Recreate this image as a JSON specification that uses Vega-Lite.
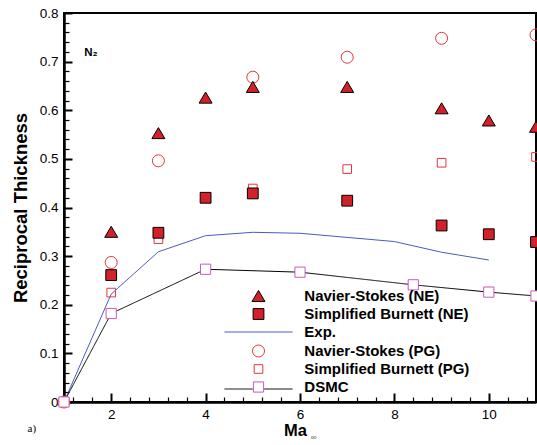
{
  "$schema": "https://vega.github.io/schema/vega-lite/v6.json",
  "width": 472,
  "height": 389,
  "autosize": "none",
  "padding": {"left": 64, "top": 13, "right": 1, "bottom": 43},
  "background": "white",
  "config": {
    "view": {"stroke": "black", "strokeWidth": 2},
    "font": "Liberation Sans"
  },
  "datasets": {
    "points": [
      {"series": "Navier-Stokes (PG)", "x": 1, "y": 0},
      {"series": "Navier-Stokes (PG)", "x": 2, "y": 0.287},
      {"series": "Navier-Stokes (PG)", "x": 3, "y": 0.496},
      {"series": "Navier-Stokes (PG)", "x": 5, "y": 0.668},
      {"series": "Navier-Stokes (PG)", "x": 7, "y": 0.709},
      {"series": "Navier-Stokes (PG)", "x": 9, "y": 0.748},
      {"series": "Navier-Stokes (PG)", "x": 11, "y": 0.755},
      {"series": "Simplified Burnett (PG)", "x": 1, "y": 0},
      {"series": "Simplified Burnett (PG)", "x": 2, "y": 0.225},
      {"series": "Simplified Burnett (PG)", "x": 3, "y": 0.335},
      {"series": "Simplified Burnett (PG)", "x": 5, "y": 0.439},
      {"series": "Simplified Burnett (PG)", "x": 7, "y": 0.479},
      {"series": "Simplified Burnett (PG)", "x": 9, "y": 0.492},
      {"series": "Simplified Burnett (PG)", "x": 11, "y": 0.504},
      {"series": "DSMC", "x": 1, "y": 0},
      {"series": "DSMC", "x": 2, "y": 0.182},
      {"series": "DSMC", "x": 4, "y": 0.273},
      {"series": "DSMC", "x": 6, "y": 0.267},
      {"series": "DSMC", "x": 8.4, "y": 0.241},
      {"series": "DSMC", "x": 10, "y": 0.226},
      {"series": "DSMC", "x": 11, "y": 0.218},
      {"series": "Navier-Stokes (NE)", "x": 2, "y": 0.35},
      {"series": "Navier-Stokes (NE)", "x": 3, "y": 0.553},
      {"series": "Navier-Stokes (NE)", "x": 4, "y": 0.626},
      {"series": "Navier-Stokes (NE)", "x": 5, "y": 0.648},
      {"series": "Navier-Stokes (NE)", "x": 7, "y": 0.648},
      {"series": "Navier-Stokes (NE)", "x": 9, "y": 0.604},
      {"series": "Navier-Stokes (NE)", "x": 10, "y": 0.579},
      {"series": "Navier-Stokes (NE)", "x": 11, "y": 0.566},
      {"series": "Simplified Burnett (NE)", "x": 2, "y": 0.261},
      {"series": "Simplified Burnett (NE)", "x": 3, "y": 0.348},
      {"series": "Simplified Burnett (NE)", "x": 4, "y": 0.42},
      {"series": "Simplified Burnett (NE)", "x": 5, "y": 0.429},
      {"series": "Simplified Burnett (NE)", "x": 7, "y": 0.414},
      {"series": "Simplified Burnett (NE)", "x": 9, "y": 0.363},
      {"series": "Simplified Burnett (NE)", "x": 10, "y": 0.345},
      {"series": "Simplified Burnett (NE)", "x": 11, "y": 0.329}
    ],
    "exp": [
      {"x": 1, "y": 0},
      {"x": 2, "y": 0.222},
      {"x": 3, "y": 0.309},
      {"x": 4, "y": 0.342},
      {"x": 5, "y": 0.349},
      {"x": 6, "y": 0.347},
      {"x": 8, "y": 0.33},
      {"x": 9, "y": 0.308},
      {"x": 10, "y": 0.292}
    ],
    "dsmc": [
      {"series": "DSMC", "x": 1, "y": 0},
      {"series": "DSMC", "x": 2, "y": 0.182},
      {"series": "DSMC", "x": 4, "y": 0.273},
      {"series": "DSMC", "x": 6, "y": 0.267},
      {"series": "DSMC", "x": 8.4, "y": 0.241},
      {"series": "DSMC", "x": 10, "y": 0.226},
      {"series": "DSMC", "x": 11, "y": 0.218}
    ]
  },
  "encoding": {
    "x": {
      "field": "x",
      "type": "quantitative",
      "scale": {"domain": [1, 11], "nice": false, "zero": false},
      "axis": {
        "orient": "bottom",
        "values": [1.2, 1.6, 2, 2.4, 2.8, 3.2, 3.6, 4, 4.4, 4.8, 5.2, 5.6, 6, 6.4, 6.8, 7.2, 7.6, 8, 8.4, 8.8, 9.2, 9.6, 10, 10.4, 10.8],
        "labelExpr": "abs(datum.value/2 - round(datum.value/2)) < 0.001 ? format(datum.value, 'd') : ''",
        "labelFont": "Liberation Sans",
        "labelFontSize": 13.5,
        "labelColor": "black",
        "labelPadding": 14,
        "labelFlush": false,
        "labelOverlap": false,
        "tickColor": "black",
        "tickSize": {"condition": {"test": "abs(datum.value/2 - round(datum.value/2)) < 0.001", "value": -9}, "value": -5},
        "tickWidth": {"condition": {"test": "abs(datum.value/2 - round(datum.value/2)) < 0.001", "value": 2}, "value": 1.2},
        "domainColor": "black",
        "domainWidth": 2.5,
        "gridOpacity": 0,
        "title": "Ma",
        "titleFont": "Liberation Sans",
        "titleFontSize": 16.5,
        "titleFontWeight": "bold",
        "titleColor": "black",
        "titleX": 231,
        "titleY": 33,
        "titleAlign": "center",
        "titleBaseline": "alphabetic"
      }
    },
    "y": {
      "field": "y",
      "type": "quantitative",
      "scale": {"domain": [0, 0.8], "nice": false, "zero": false},
      "axis": {
        "orient": "left",
        "values": [0, 0.02, 0.04, 0.06, 0.08, 0.1, 0.12, 0.14, 0.16, 0.18, 0.2, 0.22, 0.24, 0.26, 0.28, 0.3, 0.32, 0.34, 0.36, 0.38, 0.4, 0.42, 0.44, 0.46, 0.48, 0.5, 0.52, 0.54, 0.56, 0.58, 0.6, 0.62, 0.64, 0.66, 0.68, 0.7, 0.72, 0.74, 0.76, 0.78, 0.8],
        "labelExpr": "abs(datum.value*10 - round(datum.value*10)) < 0.001 ? format(datum.value, '.1~f') : ''",
        "labelFont": "Liberation Sans",
        "labelFontSize": 13.5,
        "labelColor": "black",
        "labelPadding": 14,
        "labelFlush": false,
        "labelOverlap": false,
        "tickColor": "black",
        "tickSize": {"condition": {"test": "abs(datum.value*10 - round(datum.value*10)) < 0.001", "value": -8}, "value": -5},
        "tickWidth": {"condition": {"test": "abs(datum.value*10 - round(datum.value*10)) < 0.001", "value": 2}, "value": 1.2},
        "domainColor": "black",
        "domainWidth": 2.5,
        "gridOpacity": 0,
        "title": "Reciprocal Thickness",
        "titleFont": "Liberation Sans",
        "titleFontSize": 18.5,
        "titleFontWeight": "bold",
        "titleColor": "black",
        "titleAngle": 270,
        "titleX": -44,
        "titleY": 194.5,
        "titleAlign": "center",
        "titleBaseline": "middle"
      }
    }
  },
  "layer": [
    {
      "data": {"name": "exp"},
      "mark": {"type": "line", "color": "#4a5cc0", "strokeWidth": 1},
      "encoding": {}
    },
    {
      "data": {"name": "dsmc"},
      "mark": {"type": "line", "color": "black", "strokeWidth": 1},
      "encoding": {
        "strokeDash": {
          "field": "series",
          "type": "nominal",
          "scale": {"domain": ["DSMC"], "range": [[1, 0]]},
          "legend": {
            "title": null,
            "orient": "none",
            "legendX": 187,
            "legendY": 368.5,
            "padding": 0,
            "labelExpr": "''",
            "labelFontSize": 15,
            "symbolType": "M-5.67,0H-0.95M0.95,0H5.67",
            "symbolSize": 144,
            "symbolStrokeColor": "black",
            "symbolStrokeWidth": 1
          }
        }
      }
    },
    {
      "data": {"name": "points"},
      "mark": {"type": "point", "filled": true, "size": 144, "strokeWidth": 1, "opacity": 1},
      "encoding": {
        "shape": {
          "field": "series",
          "type": "nominal",
          "scale": {
            "domain": ["Navier-Stokes (NE)", "Simplified Burnett (NE)", "Exp.", "Navier-Stokes (PG)", "Simplified Burnett (PG)", "DSMC"],
            "range": ["M0,-0.92L1.08,0.92L-1.08,0.92Z", "M-0.9,-0.9H0.9V0.9H-0.9Z", "M-5.67,0H5.67", "circle", "M-0.72,-0.72H0.72V0.72H-0.72Z", "M-0.85,-0.85H0.85V0.85H-0.85Z"]
          },
          "legend": {"title": null, "orient": "none", "legendX": 187, "legendY": 275.5, "padding": 0, "labelFont": "Liberation Sans", "labelFontSize": 15, "labelFontWeight": "bold", "labelColor": "black", "labelOffset": 38.3, "labelLimit": 400, "rowPadding": 2, "symbolSize": 144, "symbolStrokeWidth": 1, "symbolOpacity": 1}
        },
        "fill": {
          "field": "series",
          "type": "nominal",
          "scale": {
            "domain": ["Navier-Stokes (NE)", "Simplified Burnett (NE)", "Exp.", "Navier-Stokes (PG)", "Simplified Burnett (PG)", "DSMC"],
            "range": ["#d42029", "#d42029", "transparent", "transparent", "transparent", "white"]
          },
          "legend": {"title": null, "orient": "none", "legendX": 187, "legendY": 275.5, "padding": 0, "labelFont": "Liberation Sans", "labelFontSize": 15, "labelFontWeight": "bold", "labelColor": "black", "labelOffset": 38.3, "labelLimit": 400, "rowPadding": 2, "symbolSize": 144, "symbolStrokeWidth": 1, "symbolOpacity": 1}
        },
        "stroke": {
          "field": "series",
          "type": "nominal",
          "scale": {
            "domain": ["Navier-Stokes (NE)", "Simplified Burnett (NE)", "Exp.", "Navier-Stokes (PG)", "Simplified Burnett (PG)", "DSMC"],
            "range": ["black", "black", "#4a5cc0", "#e0383c", "#e0383c", "#c75bb5"]
          },
          "legend": {"title": null, "orient": "none", "legendX": 187, "legendY": 275.5, "padding": 0, "labelFont": "Liberation Sans", "labelFontSize": 15, "labelFontWeight": "bold", "labelColor": "black", "labelOffset": 38.3, "labelLimit": 400, "rowPadding": 2, "symbolSize": 144, "symbolStrokeWidth": 1, "symbolOpacity": 1}
        }
      }
    },
    {
      "data": {"values": [{"x": 1.43, "y": 0.718, "label": "N₂"}]},
      "mark": {"type": "text", "font": "Liberation Sans", "fontSize": 11.5, "fontWeight": "bold", "color": "black", "align": "left", "baseline": "middle"},
      "encoding": {"text": {"field": "label"}}
    },
    {
      "data": {"values": [{"x": 6.29, "y": -0.074, "label": "∞"}]},
      "mark": {"type": "text", "font": "Liberation Sans", "fontSize": 8, "color": "#555555", "align": "center", "baseline": "middle"},
      "encoding": {"text": {"field": "label"}}
    },
    {
      "data": {"values": [{"x": 0.227, "y": -0.0555, "label": "a)"}]},
      "mark": {"type": "text", "font": "Liberation Serif", "fontSize": 11, "color": "black", "align": "left", "baseline": "middle"},
      "encoding": {"text": {"field": "label"}}
    }
  ]
}
